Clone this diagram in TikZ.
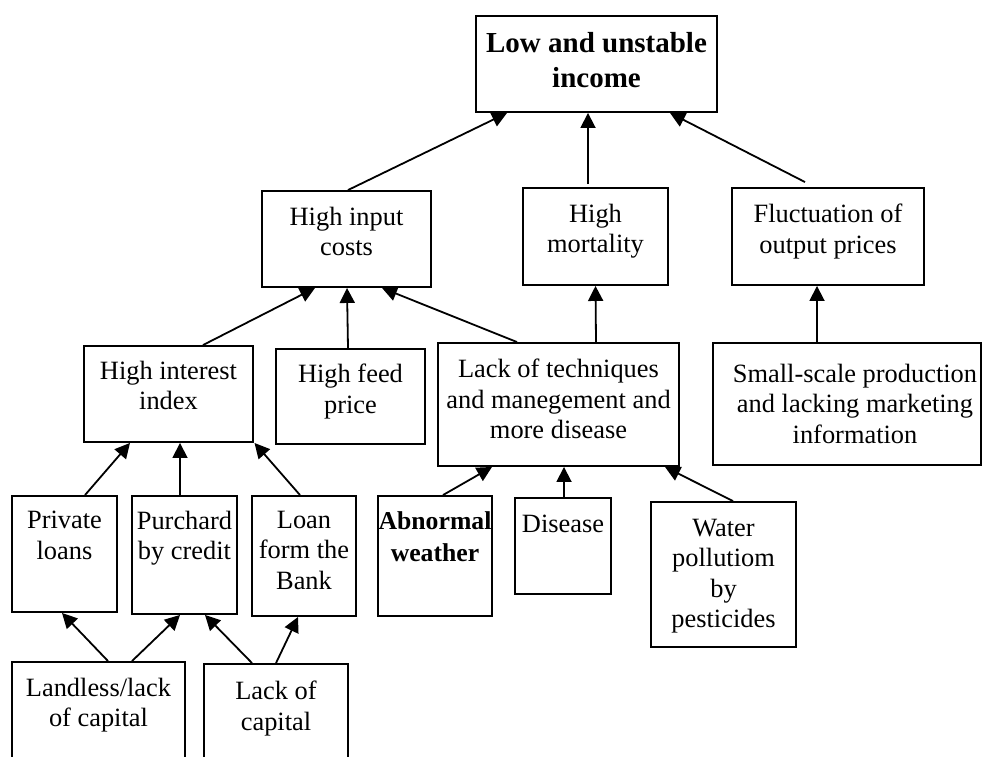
\documentclass[tikz,border=0pt]{standalone}
\usepackage{fontspec}
\setmainfont{Liberation Serif}
\usetikzlibrary{arrows.meta}
\begin{document}
\begin{tikzpicture}[x=1pt,y=-1pt,
  box/.style={draw, line width=1.9pt, inner sep=0pt},
  txt/.style={inner sep=0pt, align=center, font=\fontsize{26.4}{30.4}\selectfont},
  hdr/.style={inner sep=0pt, align=center, font=\fontsize{29}{35}\selectfont\bfseries},
  bld/.style={inner sep=0pt, align=center, font=\fontsize{25.7}{31.5}\selectfont\bfseries},
  arr/.style={line width=1.8pt, -{Triangle[length=15pt,width=15pt]}}]
\useasboundingbox (0,0) rectangle (984,756);
\clip (0,0) rectangle (984,756);

% top level
\node[box, minimum width=241pt, minimum height=96pt,
  label={[hdr,anchor=north,yshift=-17pt]north:{Low and unstable\\income}}] (income) at (596.5,64) {};

% second level
\node[box, minimum width=169pt, minimum height=96pt,
  label={[txt,anchor=north,yshift=-17pt]north:{High input\\costs}}] (input) at (346.5,239) {};
\node[box, minimum width=145pt, minimum height=97pt,
  label={[txt,anchor=north,yshift=-17pt]north:{High\\mortality}}] (mort) at (595.5,236.5) {};
\node[box, minimum width=192pt, minimum height=97pt,
  label={[txt,anchor=north,yshift=-17pt]north:{Fluctuation of\\output prices}}] (fluct) at (828,236.5) {};

% third level
\node[box, minimum width=169pt, minimum height=96pt,
  label={[txt,anchor=north,yshift=-16pt]north:{High interest\\index}}] (interest) at (168.5,394) {};
\node[box, minimum width=149pt, minimum height=95pt,
  label={[txt,anchor=north,yshift=-16pt]north:{High feed\\price}}] (feed) at (350.5,396.5) {};
\node[box, minimum width=241pt, minimum height=123pt,
  label={[txt,anchor=north,yshift=-17pt]north:{Lack of techniques\\and manegement and\\more disease}}] (tech) at (558.5,404.5) {};
\node[box, minimum width=268pt, minimum height=122pt,
  label={[txt,anchor=north,xshift=8pt,yshift=-22pt]north:{Small-scale production\\and lacking marketing\\information}}] (small) at (847,404) {};

% fourth level
\node[box, minimum width=105pt, minimum height=116pt,
  label={[txt,anchor=north,yshift=-16pt]north:{Private\\loans}}] (private) at (64.5,554) {};
\node[box, minimum width=105pt, minimum height=118pt,
  label={[txt,anchor=north,yshift=-16pt]north:{Purchard\\by credit}}] (purch) at (184.5,555) {};
\node[box, minimum width=104pt, minimum height=120pt,
  label={[txt,anchor=north,yshift=-16pt]north:{Loan\\form the\\Bank}}] (bank) at (304,556) {};
\node[box, minimum width=114pt, minimum height=120pt,
  label={[bld,anchor=north,yshift=-16.5pt]north:{Abnormal\\weather}}] (weather) at (435,556) {};
\node[box, minimum width=96pt, minimum height=96pt,
  label={[txt,anchor=north,yshift=-17.5pt]north:{Disease}}] (disease) at (563,546) {};
\node[box, minimum width=145pt, minimum height=145pt,
  label={[txt,anchor=north,yshift=-18pt]north:{Water\\pollutiom\\by\\pesticides}}] (water) at (723.5,574.5) {};

% bottom level (boxes run past the lower edge)
\node[box, minimum width=173pt, minimum height=128pt,
  label={[txt,anchor=north,yshift=-17pt]north:{Landless/lack\\of capital}}] (landless) at (98.5,726) {};
\node[box, minimum width=144pt, minimum height=126pt,
  label={[txt,anchor=north,yshift=-18pt]north:{Lack of\\capital}}] (lackcap) at (276,727) {};

% connectors into the top box
\draw[arr] ([xshift=1.5pt]input.north) -- ([xshift=-89.5pt]income.south);
\draw[arr] ([xshift=-7.5pt,yshift=3pt]mort.north) -- ([xshift=-8.5pt]income.south);
\draw[arr] ([xshift=-23pt,yshift=5pt]fluct.north) -- ([xshift=73.5pt]income.south);

% connectors into the second level
\draw[arr] ([xshift=34.5pt]interest.north) -- ([xshift=-31.5pt]input.south);
\draw[arr] ([xshift=-2.5pt]feed.north) -- ([xshift=0.5pt]input.south);
\draw[arr] ([xshift=-41.5pt]tech.north) -- ([xshift=35.5pt]input.south);
\draw[arr] ([xshift=37.5pt]tech.north) -- (mort.south);
\draw[arr] ([xshift=-30pt]small.north) -- ([xshift=-11pt]fluct.south);

% connectors into the third level
\draw[arr] ([xshift=20.5pt]private.north) -- ([xshift=-38.5pt]interest.south);
\draw[arr] ([xshift=-4.5pt]purch.north) -- ([xshift=11.5pt]interest.south);
\draw[arr] ([xshift=-4pt]bank.north) -- ([xshift=86pt]interest.south);
\draw[arr] ([xshift=8pt]weather.north) -- ([xshift=-66.5pt]tech.south);
\draw[arr] ([xshift=1pt]disease.north) -- ([xshift=5.5pt]tech.south);
\draw[arr] ([xshift=9.5pt]water.north) -- ([xshift=106.5pt]tech.south);

% connectors into the fourth level
\draw[arr] ([xshift=9.5pt]landless.north) -- ([xshift=-2.5pt]private.south);
\draw[arr] ([xshift=33.5pt]landless.north) -- ([xshift=-4.5pt]purch.south);
\draw[arr] ([xshift=-24pt]lackcap.north) -- ([xshift=20.5pt]purch.south);
\draw[arr] (lackcap.north) -- ([xshift=-6pt]bank.south);
\end{tikzpicture}
\end{document}
